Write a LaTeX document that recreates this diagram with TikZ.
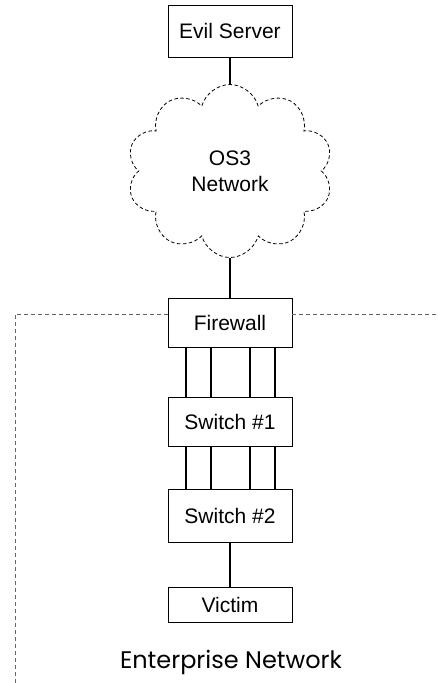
\documentclass[tikz,border=0pt]{standalone}
\usepackage{fontspec}
\setmainfont{Liberation Sans}
\newfontfamily\labelfont{Poppins}
\usetikzlibrary{shapes.symbols}

\tikzset{
	devbox/.style={draw, line width=0.8pt, minimum width=124pt, inner sep=0pt,
		font=\fontsize{21}{25}\selectfont},
	wire/.style={line width=1.3pt},
	zone/.style={dash pattern=on 4pt off 3pt, gray!80!black, line width=0.8pt}
}

\begin{document}
\begin{tikzpicture}[x=1pt, y=-1pt]
	\useasboundingbox (0,0) rectangle (438,683);
	
	% outside
	\node[devbox, minimum height=52pt] (evil) at (230,31){Evil Server};
	\node[cloud, draw, dash pattern=on 3.5pt off 2.5pt, line width=0.8pt, cloud puffs=10, aspect=1.2,
		minimum width=206pt, minimum height=173pt, align=center,
		font=\fontsize{21}{26}\selectfont] (os3) at (230,171){OS3\\Network};
	\draw[wire] (evil.south) -- (os3.north);
	
	% enterprise
	\node[devbox, minimum height=49pt] (fw) at (230,322.5){Firewall};
	\node[devbox, minimum height=49pt] (sw1) at (230,421.5){Switch \#1};
	\node[devbox, minimum height=53pt] (sw2) at (230,515.5){Switch \#2};
	\node[devbox, minimum height=35pt] (victim) at (230,604.5){Victim};
	\draw[wire] (os3.south) -- (fw.north);
	
	\foreach \dx in {-44, -19, 20, 45}{
		\draw[wire] ([xshift=\dx]fw.south) -- ([xshift=\dx]sw1.north);
		\draw[wire] ([xshift=\dx]sw1.south) -- ([xshift=\dx]sw2.north);
	}
	\draw[wire] (sw2.south) -- (victim.north);
	
	% boundary
	\coordinate (edge) at (438,314);
	\coordinate (corner) at (15,314);
	\coordinate (floor) at (15,683);
	\draw[zone] (fw.west |- corner) -- (corner) -- (floor);
	\draw[zone] (fw.east |- edge) -- (edge);
	\node[font=\labelfont\fontsize{24}{28}\selectfont] (ent) at (231,662){Enterprise Network};
\end{tikzpicture}
\end{document}
